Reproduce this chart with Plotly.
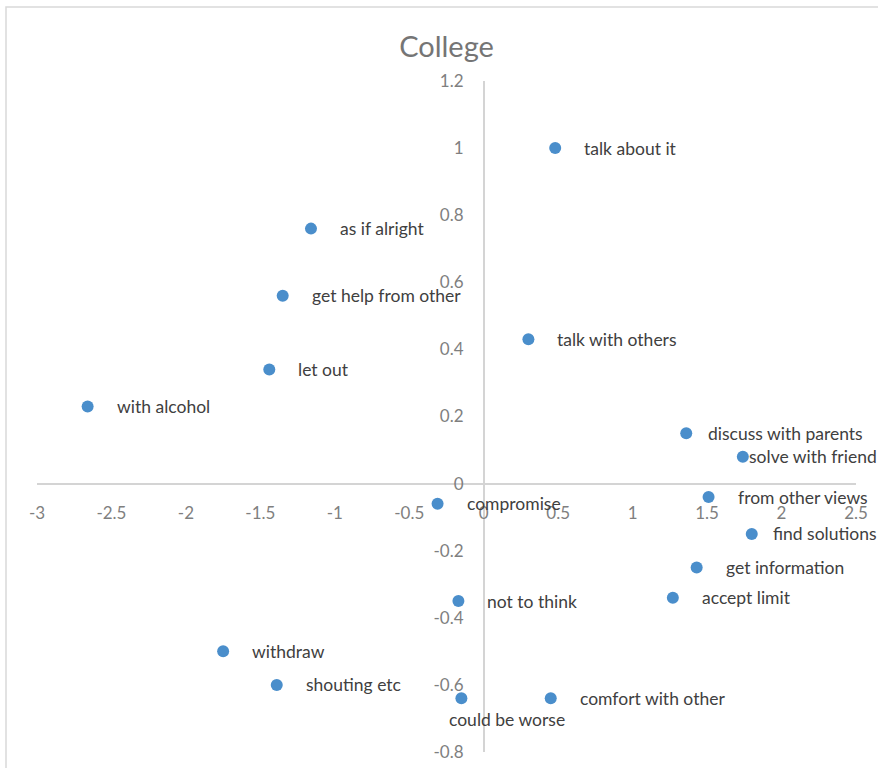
import plotly.graph_objects as go

# Coping strategies positioned on two dimensions
strategies = [
    "talk about it", "as if alright", "get help from other", "talk with others",
    "let out", "with alcohol", "discuss with parents", "solve with friend",
    "from other views", "compromise", "find solutions", "get information",
    "accept limit", "not to think", "withdraw", "shouting etc",
    "could be worse", "comfort with other",
]
dim1 = [0.48, -1.16, -1.35, 0.30, -1.44, -2.66, 1.36, 1.74,
        1.51, -0.31, 1.80, 1.43, 1.27, -0.17, -1.75, -1.39,
        -0.15, 0.45]
dim2 = [1.00, 0.76, 0.56, 0.43, 0.34, 0.23, 0.15, 0.08,
        -0.04, -0.06, -0.15, -0.25, -0.34, -0.35, -0.50, -0.60,
        -0.64, -0.64]

x_tickvals = [-3, -2.5, -2, -1.5, -1, -0.5, 0, 0.5, 1, 1.5, 2, 2.5]
x_ticktext = ["-3", "-2.5", "-2", "-1.5", "-1", "-0.5", "0", "0.5", "1", "1.5", "2", "2.5"]
y_tickvals = [-0.8, -0.6, -0.4, -0.2, 0, 0.2, 0.4, 0.6, 0.8, 1, 1.2]
y_ticktext = ["-0.8", "-0.6", "-0.4", "-0.2", "0", "0.2", "0.4", "0.6", "0.8", "1", "1.2"]

X_RANGE = (-3, 2.5)
Y_RANGE = (-0.8, 1.2)

FONT = "Lato, Carlito, Calibri, sans-serif"
MARKER = "#4a8ecb"
AXIS = "#d4d4d4"
TICK = "#7f7f7f"

# label placement relative to its point (pixels)
default_offset = (27, 0)
label_offsets = {
    "discuss with parents": (20, 0),
    "solve with friend": (4, 0),
    "find solutions": (19, 0),
    "could be worse": (-14, -21),
}

fig = go.Figure(go.Scatter(
    x=dim1, y=dim2, mode="markers",
    marker=dict(size=12, color=MARKER),
    text=strategies, hoverinfo="text",
))

for name, xv, yv in zip(strategies, dim1, dim2):
    dx, dy = label_offsets.get(name, default_offset)
    fig.add_annotation(
        x=xv, y=yv, text=name, showarrow=False,
        xanchor="left", yanchor="middle", xshift=dx, yshift=dy,
        font=dict(family=FONT, size=17.5, color="#404040"),
    )

# axes cross at the origin
x_cross = (0 - Y_RANGE[0]) / (Y_RANGE[1] - Y_RANGE[0])
y_cross = (0 - X_RANGE[0]) / (X_RANGE[1] - X_RANGE[0])

fig.update_layout(
    width=878, height=768,
    margin=dict(l=37, r=22, t=81, b=16),
    paper_bgcolor="white", plot_bgcolor="white",
    showlegend=False,
    title=dict(text="College", x=0.5, xref="paper", y=1 - 47 / 768,
               yref="container", xanchor="center", yanchor="middle",
               font=dict(family=FONT, size=29, color="#757575")),
    xaxis=dict(range=list(X_RANGE), anchor="free", position=x_cross,
               tickvals=x_tickvals, ticktext=x_ticktext,
               showgrid=False, zeroline=False, showline=True,
               linecolor=AXIS, linewidth=1.5, ticks="",
               ticklabelstandoff=14,
               tickfont=dict(family=FONT, size=17, color=TICK),
               automargin=False),
    yaxis=dict(range=list(Y_RANGE), anchor="free", position=y_cross,
               tickvals=y_tickvals, ticktext=y_ticktext,
               showgrid=False, zeroline=False, showline=True,
               linecolor=AXIS, linewidth=1.5, ticks="",
               ticklabelstandoff=16,
               tickfont=dict(family=FONT, size=17, color=TICK),
               automargin=False),
    font=dict(family=FONT),
)

# chart frame
fig.add_shape(type="rect", xref="paper", yref="paper",
              x0=(6 - 37) / 819, x1=1.1, y0=-0.1, y1=(752 - 7) / 671,
              line=dict(color="#d9d9d9", width=1.5), fillcolor="rgba(0,0,0,0)",
              layer="below")

fig.write_html("out.html")
